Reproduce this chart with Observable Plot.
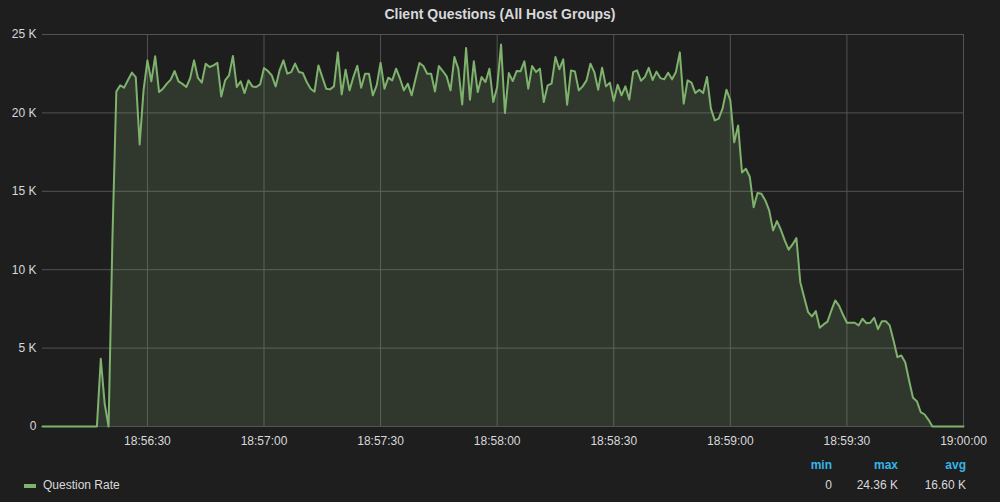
<!DOCTYPE html>
<html>
<head>
<meta charset="utf-8">
<script src="https://cdn.jsdelivr.net/npm/d3@7"></script>
<script src="https://cdn.jsdelivr.net/npm/@observablehq/plot@0.6"></script>
<style>
  html, body { margin: 0; padding: 0; background: #1f1e1f; }
  body { width: 1000px; height: 502px; overflow: hidden; font-family: "Liberation Sans", Arial, sans-serif; color: #d8d9da; }
  #title { height: 28px; line-height: 28px; text-align: center; font-size: 14px; font-weight: bold; color: #d8d9da; }
  #chart svg { display: block; }
  #legend { position: relative; height: 54px; font-size: 12px; }
  .hdr { position: absolute; top: 10px; font-weight: bold; color: #33b5e5; text-align: right; }
  .val { position: absolute; top: 30px; text-align: right; color: #d8d9da; }
  #swatch { position: absolute; left: 24px; top: 36px; width: 12px; height: 4px; background: #7eb26d; }
  #series { position: absolute; left: 43px; top: 30px; }
</style>
</head>
<body>
<div id="title">Client Questions (All Host Groups)</div>
<div id="chart"></div>
<div id="legend"></div>
<script>
// Question rate, one sample per second starting at 18:56:03
const startTime = Date.UTC(2016, 0, 1, 18, 56, 3);
const stepMs = 1000;
const questionRate = [
  0, 0, 0, 0, 0, 0, 0, 0, 0, 0, 0, 0, 0, 0, 0,
  4320, 1450, 0, 12000, 21370, 21756, 21610, 22100, 22566, 22285,
  17990, 21437, 23350, 22010, 23606, 21330, 21545, 21865, 22120, 22670,
  22010, 21850, 21650, 22220, 23350, 22230, 21930, 23140, 22925, 23030,
  23200, 21050, 22075, 22390, 23625, 21650, 22010, 21265, 22075, 21690,
  21650, 21820, 22860, 22670, 22390, 21690, 22710, 23350, 22500, 22605,
  23140, 22605, 22540, 21970, 21545, 21350, 23030, 22285, 21545, 21500,
  21690, 23860, 21180, 22755, 21437, 22285, 23010, 21610, 22500, 22500,
  21120, 21760, 23200, 21545, 22245, 22075, 22820, 22180, 21437, 21865,
  21120, 22180, 23180, 22990, 22500, 22500, 21370, 22990, 22670, 22330,
  21437, 23560, 22820, 20540, 24140, 20845, 23290, 21330, 22285, 21970,
  22820, 20690, 21650, 24360, 19990, 22540, 22030, 22670, 22650, 23290,
  21545, 22990, 22605, 22820, 20690, 21760, 21865, 23560, 22780, 23415,
  20525, 22710, 22650, 21437, 21690, 22075, 23140, 22605, 21480, 22885,
  21690, 21930, 20755, 21800, 21120, 21690, 20845, 22605, 22710, 22050,
  22285, 22870, 22100, 22630, 22220, 22140, 22565, 22140, 22605, 23860,
  20590, 22075, 21930, 21265, 21480, 21265, 22285, 20270, 19520, 19630,
  20270, 21480, 20800, 18120, 19200, 16200, 16440, 15930, 13990, 14885,
  14845, 14420, 13780, 12505, 13100, 12550, 11865, 11275, 11610, 12015,
  9205, 8250, 7295, 7020, 7355, 6295, 6510, 6690, 7400, 8040,
  7690, 7125, 6615, 6615, 6615, 6445, 6870, 6590, 6615, 6935,
  6210, 6720, 6720, 6445, 5485, 4420, 4530, 4100, 2935, 1830,
  1615, 910, 765, 425, 0, 0, 0, 0, 0, 0,
  0, 0, 0
];
const yTicks = [0, 5000, 10000, 15000, 20000, 25000];
const xTickLabels = ["18:56:30", "18:57:00", "18:57:30", "18:58:00", "18:58:30", "18:59:00", "18:59:30", "19:00:00"];
const seriesName = "Question Rate";
const statNames = ["min", "max", "avg"];
const statValues = ["0", "24.36 K", "16.60 K"];

const data = questionRate.map((v, i) => ({ time: new Date(startTime + i * stepMs), value: v }));
const toDate = s => { const [h, m, sec] = s.split(":").map(Number); return new Date(Date.UTC(2016, 0, 1, h, m, sec)); };
const xTicks = xTickLabels.map(toDate);
const xDomain = [data[0].time, data[data.length - 1].time];
const fmtY = d => d === 0 ? "0" : d / 1000 + " K";
const fmtX = d3.utcFormat("%H:%M:%S");

const grid = "#535353";
const green = "#7eb26d";

const chart = Plot.plot({
  width: 1000,
  height: 420,
  marginLeft: 42,
  marginRight: 37,
  marginTop: 6,
  marginBottom: 22,
  style: { background: "transparent", color: "#d8d9da", fontSize: "12px", fontFamily: "'Liberation Sans', Arial, sans-serif", overflow: "visible" },
  x: { type: "utc", domain: xDomain, label: null },
  y: { domain: [0, 25000], label: null },
  marks: [
    Plot.ruleY(yTicks, { stroke: grid, strokeWidth: 1 }),
    Plot.ruleX(xTicks, { stroke: grid, strokeWidth: 1 }),
    Plot.areaY(data, { x: "time", y: "value", fill: green, fillOpacity: 0.18 }),
    Plot.lineY(data, { x: "time", y: "value", stroke: green, strokeWidth: 2, strokeLinejoin: "round" }),
    Plot.axisY(yTicks, { tickSize: 0, tickPadding: 6, tickFormat: fmtY, fill: "#d8d9da", label: null }),
    Plot.axisX(xTicks, { tickSize: 0, tickPadding: 10, tickFormat: fmtX, fill: "#d8d9da", label: null })
  ]
});
document.getElementById("chart").appendChild(chart);

// legend: series swatch on the left, min / max / avg table on the right
const legend = document.getElementById("legend");
const sw = document.createElement("div"); sw.id = "swatch"; legend.appendChild(sw);
const nm = document.createElement("div"); nm.id = "series"; nm.textContent = seriesName; legend.appendChild(nm);
const rightEdges = [832, 898, 966];
statNames.forEach((s, i) => {
  const h = document.createElement("div");
  h.className = "hdr"; h.textContent = s; h.style.right = (1000 - rightEdges[i]) + "px";
  legend.appendChild(h);
  const v = document.createElement("div");
  v.className = "val"; v.textContent = statValues[i]; v.style.right = (1000 - rightEdges[i]) + "px";
  legend.appendChild(v);
});
</script>
</body>
</html>
